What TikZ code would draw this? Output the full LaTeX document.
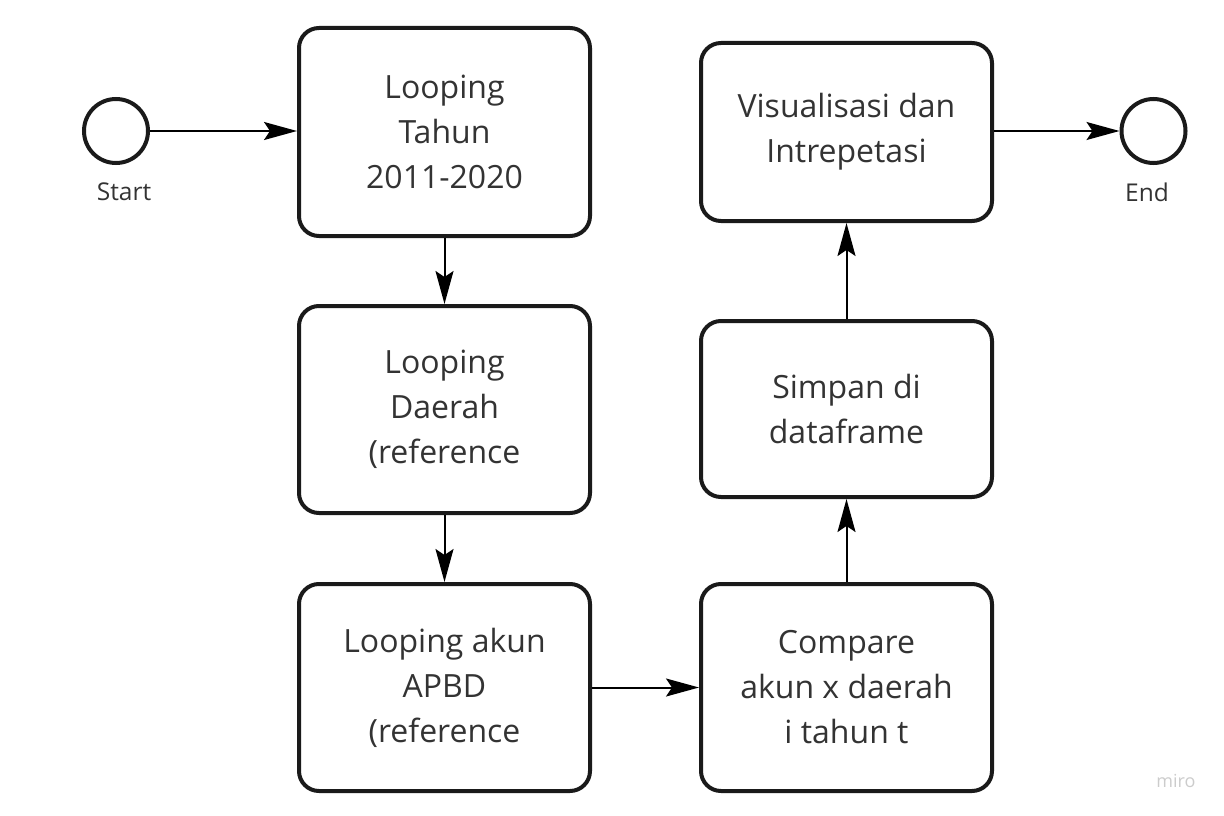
\documentclass[tikz,border=0pt]{standalone}
\usepackage{fontspec}
\setmainfont{Open Sans}
\usetikzlibrary{arrows.meta}
\definecolor{txt}{HTML}{333333}
\definecolor{edge}{HTML}{1A1A1A}
\tikzset{
  box/.style={draw=edge, line width=4pt, rounded corners=20pt, minimum width=291pt, inner sep=0pt,
    align=center, text=txt, font=\fontsize{32}{45}\selectfont},
  ev/.style={draw=edge, line width=4pt, circle, minimum size=64pt, inner sep=0pt},
  lab/.style={text=txt, font=\fontsize{24.5}{28}\selectfont, inner sep=0pt},
  arr/.style={draw=black, line width=2pt, -{Stealth[length=33pt,width=18pt,inset=6pt]}}
}
\begin{document}
\begin{tikzpicture}[x=1pt,y=-1pt]
\useasboundingbox (0,0) rectangle (1224,816);
\node[ev] (start) at (116,131) {};
\node[lab] (slab) at (124,192) {Start};
\node[ev] (end) at (1153.5,131) {};
\node[lab] (elab) at (1147,192) {End};
\node[box, minimum height=208pt] (b1) at (444.5,132) {Looping\\Tahun\\2011-2020};
\node[box, minimum height=207pt] (b2) at (444.5,409.5) {Looping\\Daerah\\(reference};
\node[box, minimum height=207pt] (b3) at (444.5,687.5) {Looping akun\\APBD\\(reference};
\node[box, minimum height=207pt] (b4) at (846.5,687.5) {Compare\\akun x daerah\\i tahun t};
\node[box, minimum height=176pt] (b5) at (846.5,409) {Simpan di\\dataframe};
\node[box, minimum height=178pt] (b6) at (846.5,132) {Visualisasi dan\\Intrepetasi};
\node[text=black!20, font=\fontsize{18}{20}\selectfont, inner sep=0pt] (miro) at (1176,781) {miro};
\draw[arr] (start.east) -- (start.east -| b1.west);
\draw[arr] (b1.south) -- (b2.north);
\draw[arr] (b2.south) -- (b3.north);
\draw[arr] (b3.east) -- (b4.west);
\draw[arr] (b4.north) -- (b5.south);
\draw[arr] (b5.north) -- (b6.south);
\draw[arr] (b6.east |- end.west) -- (end.west);
\end{tikzpicture}
\end{document}
